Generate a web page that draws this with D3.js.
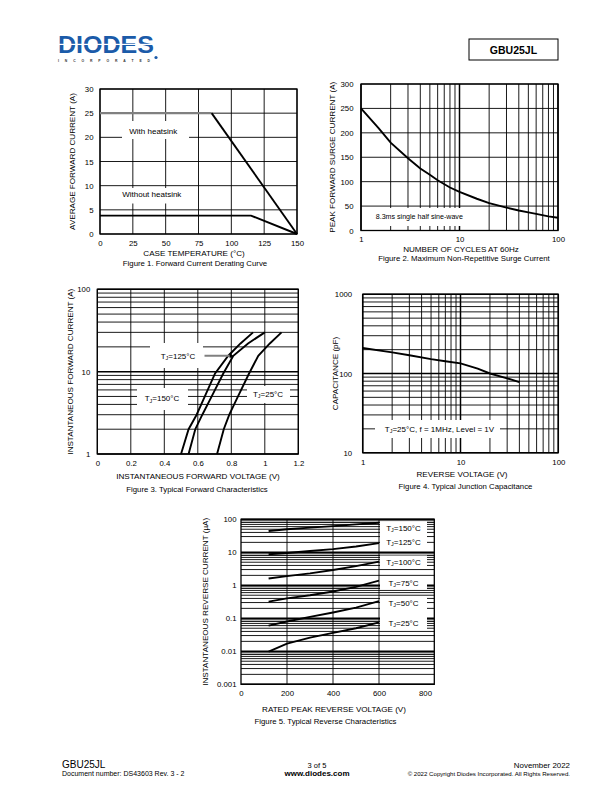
<!DOCTYPE html>
<html>
<head>
<meta charset="utf-8">
<script src="https://cdnjs.cloudflare.com/ajax/libs/d3/7.8.5/d3.min.js"></script>
<style>
body { margin: 0; background: #fff; }
svg text { font-family: "Liberation Sans", Arial, sans-serif; }
</style>
</head>
<body>
<script>
(function () {

	// Figure 1 - forward current derating
	var caseTemp = [0, 85, 150];
	var currentWithSink = [25, 25, 0];
	var caseTempNoSink = [0, 115, 150];
	var currentNoSink = [3.8, 3.8, 0];
	var tempTicks = [0, 25, 50, 75, 100, 125, 150];
	var derateTicks = [0, 5, 10, 15, 20, 25, 30];

	// Figure 2 - surge current
	var surgeCycles = [1, 1.5, 2, 3, 4, 5, 6, 8, 10, 15, 20, 30, 40, 50, 60, 80, 100];
	var surgeCurrent = [250, 210, 180, 148, 127, 114, 103, 88, 79, 65, 56, 47, 41, 37, 34, 29, 26];
	var cycleTicks = [1, 10, 100];
	var surgeTicks = [0, 50, 100, 150, 200, 250, 300];

	// Figure 3 - forward characteristics
	var fwdCurrent = [1, 2, 3, 5, 9.5, 15.6, 22, 30];
	var fwdVolt150 = [0.50, 0.545, 0.593, 0.642, 0.703, 0.782, 0.855, 0.93];
	var fwdVolt125 = [0.545, 0.585, 0.627, 0.683, 0.752, 0.812, 0.9, 1.0];
	var fwdVolt25 = [0.715, 0.755, 0.788, 0.84, 0.906, 0.961, 1.03, 1.1];
	var fwdVoltTicks = [0, 0.2, 0.4, 0.6, 0.8, 1, 1.2];
	var fwdCurrentTicks = [1, 10, 100];

	// Figure 4 - junction capacitance
	var capVolt = [1, 2, 3, 5, 7, 10, 15, 20, 30, 40];
	var capPf = [210, 185, 170, 152, 143, 134, 115, 100, 87, 78];
	var capVoltTicks = [1, 10, 100];
	var capTicks = [10, 100, 1000];

	// Figure 5 - reverse characteristics
	var revVolt = [120, 200, 300, 400, 500, 600];
	var rev150 = [44, 50, 56, 62, 70, 79];
	var rev125 = [8.7, 9.5, 11, 12.5, 15, 19];
	var rev100 = [1.6, 1.9, 2.3, 2.9, 3.8, 5.2];
	var rev75 = [0.32, 0.4, 0.5, 0.65, 0.9, 1.38];
	var rev50 = [0.06, 0.08, 0.11, 0.15, 0.21, 0.33];
	var rev25 = [0.0098, 0.017, 0.026, 0.036, 0.05, 0.075];
	var revTemps = ["150", "125", "100", "75", "50", "25"];
	var revVoltTicks = [0, 200, 400, 600, 800];
	var revCurrentTicks = [0.001, 0.01, 0.1, 1, 10, 100];

	var TICK = 7.8, TITLE = 8.1, CAPTION = 7.8, NOTE = 8;

	var svg = d3.select("body").append("svg")
		.attr("width", 612)
		.attr("height", 792);

	function isDecade(d) {
		var l = Math.log10(d);
		return Math.abs(l - Math.round(l)) < 1e-6;
	}

	// frame, grid and tick labels of one figure
	function drawPlot(p) {
		var g = svg.append("g");
		var left = p.x.range()[0], right = p.right || p.x.range()[1];
		var top = p.y.range()[1], bottom = p.y.range()[0];

		g.selectAll(".vg").data(p.xGrid).enter().append("line")
			.attr("x1", function (d) { return p.x(d); })
			.attr("x2", function (d) { return p.x(d); })
			.attr("y1", top).attr("y2", bottom)
			.attr("stroke", "#000")
			.attr("stroke-width", function (d) { return p.xLog && isDecade(d) ? 1.5 : 0.9; });

		g.selectAll(".hg").data(p.yGrid).enter().append("line")
			.attr("y1", function (d) { return p.y(d); })
			.attr("y2", function (d) { return p.y(d); })
			.attr("x1", left).attr("x2", right)
			.attr("stroke", "#000")
			.attr("stroke-width", function (d) { return p.yLog && isDecade(d) ? 1.5 : 0.9; });

		// white boxes behind annotations
		(p.boxes || []).forEach(function (b) {
			g.append("rect")
				.attr("x", b[0]).attr("y", b[1])
				.attr("width", b[2]).attr("height", b[3])
				.attr("fill", "#fff");
		});

		g.append("rect")
			.attr("x", left).attr("y", top)
			.attr("width", right - left).attr("height", bottom - top)
			.attr("fill", "none")
			.attr("stroke", "#000")
			.attr("stroke-width", 1.3);

		var ax = g.append("g")
			.attr("transform", "translate(0," + bottom + ")")
			.call(d3.axisBottom(p.x).tickValues(p.xTicks).tickFormat(d3.format("")).tickSize(0).tickPadding(6.3));
		ax.select(".domain").remove();
		ax.attr("font-size", TICK);

		var ay = g.append("g")
			.attr("transform", "translate(" + left + ",0)")
			.call(d3.axisLeft(p.y).tickValues(p.yTicks).tickFormat(d3.format("")).tickSize(0).tickPadding(p.yPad));
		ay.select(".domain").remove();
		ay.attr("font-size", TICK);

		g.append("text")
			.attr("x", p.titleX).attr("y", p.titleY)
			.attr("text-anchor", "middle")
			.attr("font-size", TITLE)
			.text(p.xTitle);

		g.append("text")
			.attr("transform", "translate(" + p.yTitleX + "," + (top + bottom) / 2 + ") rotate(-90)")
			.attr("text-anchor", "middle")
			.attr("font-size", TITLE)
			.text(p.yTitle);

		g.append("text")
			.attr("x", p.capX).attr("y", p.capY)
			.attr("text-anchor", "middle")
			.attr("font-size", CAPTION)
			.text(p.caption);

		return g;
	}

	function curve(g, xs, ys, x, y, color, w) {
		var line = d3.line()
			.x(function (d) { return x(d[0]); })
			.y(function (d) { return y(d[1]); });
		g.append("path")
			.attr("d", line(d3.zip(xs, ys)))
			.attr("fill", "none")
			.attr("stroke", color || "#000")
			.attr("stroke-width", w || 1.9);
	}

	function label(g, x, y, txt, size) {
		g.append("text")
			.attr("x", x).attr("y", y)
			.attr("text-anchor", "middle")
			.attr("font-size", size || NOTE)
			.text(txt);
	}

	function tjLabel(g, x, y, rest) {
		var t = g.append("text")
			.attr("x", x).attr("y", y)
			.attr("text-anchor", "middle")
			.attr("font-size", NOTE);
		t.append("tspan").text("T");
		t.append("tspan").attr("font-size", 5.4).attr("dy", 1.3).text("J");
		t.append("tspan").attr("dy", -1.3).text(rest);
		return t;
	}

	// ---------- header ----------
	svg.append("text")
		.attr("x", 58).attr("y", 53)
		.attr("font-size", 24.5)
		.attr("font-weight", "bold")
		.attr("textLength", 96)
		.attr("lengthAdjust", "spacingAndGlyphs")
		.attr("fill", "#1b5ba9")
		.text("DIODES");
	svg.append("rect")
		.attr("x", 56).attr("y", 43.8)
		.attr("width", 100).attr("height", 1.2)
		.attr("fill", "#fff");
	svg.append("text")
		.attr("x", 58).attr("y", 61.8)
		.attr("font-size", 3.4)
		.attr("font-weight", "bold")
		.attr("textLength", 92)
		.attr("fill", "#333")
		.text("INCORPORATED");
	svg.append("circle")
		.attr("cx", 156).attr("cy", 57.5).attr("r", 1.6)
		.attr("fill", "#1b5ba9");

	svg.append("rect")
		.attr("x", 469).attr("y", 39)
		.attr("width", 89).attr("height", 21)
		.attr("fill", "none")
		.attr("stroke", "#000")
		.attr("stroke-width", 1);
	svg.append("text")
		.attr("x", 513.5).attr("y", 53.5)
		.attr("text-anchor", "middle")
		.attr("font-size", 10.5)
		.attr("font-weight", "bold")
		.text("GBU25JL");

	// ---------- Figure 1 ----------
	var x1 = d3.scaleLinear().domain([0, 150]).range([100, 297]);
	var y1 = d3.scaleLinear().domain([0, 30]).range([234, 89]);
	var g1 = drawPlot({
		x: x1, y: y1,
		xGrid: tempTicks, yGrid: derateTicks,
		xTicks: tempTicks, yTicks: derateTicks, yPad: 6.5,
		xTitle: "CASE TEMPERATURE (°C)", titleX: 194, titleY: 256.3,
		yTitle: "AVERAGE FORWARD CURRENT (A)", yTitleX: 74.5,
		caption: "Figure 1. Forward Current Derating Curve", capX: 195, capY: 265.6,
		boxes: [[122, 121, 67, 18], [101, 188, 89, 15.5]]
	});
	curve(g1, caseTemp.slice(0, 2), currentWithSink.slice(0, 2), x1, y1, "#808080", 2.4);
	curve(g1, caseTemp.slice(1), currentWithSink.slice(1), x1, y1);
	curve(g1, caseTempNoSink, currentNoSink, x1, y1);
	label(g1, 153.3, 133.8, "With heatsink");
	label(g1, 151.8, 197.1, "Without heatsink");

	// ---------- Figure 2 ----------
	var x2 = d3.scaleLog().domain([1, 100]).range([361, 558]);
	var y2 = d3.scaleLinear().domain([0, 300]).range([230.5, 84]);
	var g2 = drawPlot({
		x: x2, y: y2, xLog: true,
		xGrid: x2.ticks(), yGrid: surgeTicks,
		xTicks: cycleTicks, yTicks: surgeTicks, yPad: 7.5,
		xTitle: "NUMBER OF CYCLES AT 60Hz", titleX: 461, titleY: 251.6,
		yTitle: "PEAK FORWARD SURGE CURRENT (A)", yTitleX: 334.5,
		caption: "Figure 2. Maximum Non-Repetitive Surge Current", capX: 464, capY: 261,
		boxes: [[362, 208, 100, 18]]
	});
	curve(g2, surgeCycles, surgeCurrent, x2, y2);
	label(g2, 419.3, 219, "8.3ms single half sine-wave", 7.1);

	// ---------- Figure 3 ----------
	var x3 = d3.scaleLinear().domain([0, 1.2]).range([97.3, 298.3]);
	var y3 = d3.scaleLog().domain([1, 100]).range([454, 289.3]);
	var g3 = drawPlot({
		x: x3, y: y3, yLog: true,
		xGrid: fwdVoltTicks, yGrid: y3.ticks(),
		xTicks: fwdVoltTicks, yTicks: fwdCurrentTicks, yPad: 7,
		xTitle: "INSTANTANEOUS FORWARD VOLTAGE (V)", titleX: 198, titleY: 479.2,
		yTitle: "INSTANTANEOUS FORWARD CURRENT (A)", yTitleX: 72.5,
		caption: "Figure 3. Typical Forward Characteristics", capX: 197, capY: 492.2,
		boxes: [[150, 343, 53, 25], [137, 388, 51, 22], [247, 386, 43, 17]]
	});
	curve(g3, fwdVolt150, fwdCurrent, x3, y3);
	curve(g3, fwdVolt125, fwdCurrent, x3, y3);
	curve(g3, fwdVolt25, fwdCurrent, x3, y3);
	tjLabel(g3, 178, 358.7, "=125°C");
	tjLabel(g3, 162, 401.2, "=150°C");
	tjLabel(g3, 268, 396.7, "=25°C");
	// arrow to the 125 curve
	g3.append("line")
		.attr("x1", x3(0.64)).attr("x2", x3(0.795))
		.attr("y1", y3(15.6)).attr("y2", y3(15.6))
		.attr("stroke", "#808080").attr("stroke-width", 2);
	g3.append("path")
		.attr("d", "M" + x3(0.79) + "," + (y3(15.6) - 2.5) + "L" + x3(0.812) + "," + y3(15.6) + "L" + x3(0.79) + "," + (y3(15.6) + 2.5) + "Z")
		.attr("fill", "#000");

	// ---------- Figure 4 ----------
	var x4 = d3.scaleLog().domain([1, 100]).range([362.7, 558.3]);
	var y4 = d3.scaleLog().domain([10, 1000]).range([452.7, 294.3]);
	var g4 = drawPlot({
		x: x4, y: y4, xLog: true, yLog: true,
		xGrid: x4.ticks(), yGrid: y4.ticks(),
		xTicks: capVoltTicks, yTicks: capTicks, yPad: 10.5,
		xTitle: "REVERSE VOLTAGE (V)", titleX: 462, titleY: 477,
		yTitle: "CAPACITANCE (pF)", yTitleX: 337.5,
		caption: "Figure 4. Typical Junction Capacitance", capX: 465.5, capY: 489.4,
		boxes: [[375, 420, 125, 18]]
	});
	curve(g4, capVolt, capPf, x4, y4);
	tjLabel(g4, 439.5, 431.8, "=25°C, f = 1MHz, Level = 1V");

	// ---------- Figure 5 ----------
	var x5 = d3.scaleLinear().domain([0, 800]).range([241, 425]);
	var y5 = d3.scaleLog().domain([0.001, 100]).range([684.3, 519.3]);
	var labelY = [527.7, 542, 562, 583, 603, 623];
	var g5 = drawPlot({
		x: x5, y: y5, yLog: true, right: 434.3,
		xGrid: [200, 400, 600], yGrid: y5.ticks(),
		xTicks: revVoltTicks, yTicks: revCurrentTicks, yPad: 4.5,
		xTitle: "RATED PEAK REVERSE VOLTAGE (V)", titleX: 334, titleY: 711.8,
		yTitle: "INSTANTANEOUS REVERSE CURRENT (µA)", yTitleX: 207.5,
		caption: "Figure 5. Typical Reverse Characteristics", capX: 325.5, capY: 724,
		boxes: labelY.map(function (d) { return [380, d - 6.5, 47, 13]; })
	});
	[rev150, rev125, rev100, rev75, rev50, rev25].forEach(function (s) {
		curve(g5, revVolt, s, x5, y5);
	});
	revTemps.forEach(function (t, i) {
		tjLabel(g5, 403.5, labelY[i] + 2.8, "=" + t + "°C");
	});

	// ---------- footer ----------
	svg.append("text").attr("x", 62).attr("y", 768).attr("font-size", 10).text("GBU25JL");
	svg.append("text").attr("x", 62).attr("y", 776).attr("font-size", 7).text("Document number: DS43603 Rev. 3 - 2");
	svg.append("text").attr("x", 317).attr("y", 767.5).attr("text-anchor", "middle").attr("font-size", 7.5).text("3 of 5");
	svg.append("text").attr("x", 317).attr("y", 776).attr("text-anchor", "middle").attr("font-size", 8).attr("font-weight", "bold").text("www.diodes.com");
	svg.append("text").attr("x", 570).attr("y", 767.5).attr("text-anchor", "end").attr("font-size", 7.9).text("November 2022");
	svg.append("text").attr("x", 570).attr("y", 775.5).attr("text-anchor", "end").attr("font-size", 6.1).text("© 2022 Copyright Diodes Incorporated. All Rights Reserved.");

})();
</script>
</body>
</html>
